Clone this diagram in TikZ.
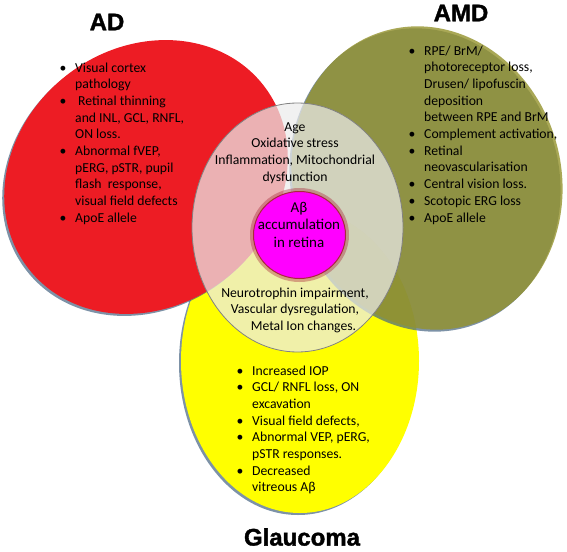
\documentclass[tikz,border=0pt]{standalone}
\usepackage{fontspec}
\setmainfont{Carlito}
\newfontfamily\titlefont[FakeBold=1.5]{Liberation Sans Bold}
\definecolor{adred}{RGB}{237,28,36}
\definecolor{amdolive}{RGB}{148,146,44}
\definecolor{glyellow}{RGB}{255,255,0}
\definecolor{shadowblue}{RGB}{70,100,130}
\definecolor{hubfill}{RGB}{235,235,235}
\definecolor{hubline}{RGB}{130,130,130}
\definecolor{abmag}{RGB}{255,0,255}
\definecolor{abglow}{RGB}{170,40,60}
\newcommand\bitem{\makebox[15.5pt][l]{•}}
\newcommand\cont{\hspace*{15.5pt}}
\begin{document}
\begin{tikzpicture}[x=1pt,y=-1pt,
  listtext/.style={inner sep=0pt, align=left, anchor=base west, font=\fontsize{13.7}{16.7}\selectfont},
  ctext/.style={inner sep=0pt, align=center, anchor=base, font=\fontsize{13.7}{16.7}\selectfont},
  magtext/.style={inner sep=0pt, align=center, anchor=base, font=\fontsize{15}{17.5}\selectfont},
  titletext/.style={inner sep=0pt, font=\titlefont\fontsize{24}{28}\selectfont},
  shadowfill/.style={fill=shadowblue, opacity=0.7, xshift=-2pt, yshift=-2pt}]

\useasboundingbox (0,0) rectangle (567,551);

% Glaucoma (yellow)
\fill[shadowfill] (300,361) ellipse [x radius=119pt, y radius=152pt];
\fill[glyellow] (300,361) ellipse [x radius=119pt, y radius=152pt];

% AD (red)
\fill[shadowfill, rotate around={38:(146,177)}] (146,177) ellipse [x radius=149pt, y radius=129pt];
\fill[adred, rotate around={38:(146,177)}] (146,177) ellipse [x radius=149pt, y radius=129pt];

% AMD (olive)
\fill[shadowfill, rotate around={16:(427,178)}] (427,178) ellipse [x radius=134pt, y radius=153pt];
\fill[amdolive, opacity=0.8, rotate around={16:(427,178)}] (427,178) ellipse [x radius=134pt, y radius=153pt];

% common hub
\filldraw[fill=hubfill, fill opacity=0.72, draw=hubline, line width=0.8pt] (297.5,227.5) ellipse [x radius=105.5pt, y radius=124.5pt];

% A-beta core
\fill[abglow, opacity=0.4] (299.5,235) ellipse [x radius=49.5pt, y radius=47pt];
\filldraw[fill=abmag, draw=abglow, line width=1pt] (299.5,235) ellipse [x radius=46pt, y radius=43.5pt];

% titles
\node[titletext] (adtitle) at (107,22) {AD};
\node[titletext] (amdtitle) at (461,13) {AMD};
\node[titletext] (gltitle) at (302,537) {Glaucoma};

% AD list (anchored at the baseline of its last line)
\node[listtext] (adlist) at (59.5,222.3) {%
\bitem Visual cortex\\
\cont pathology\\
\bitem\hspace*{3pt}Retinal thinning\\
\cont and INL, GCL, RNFL,\\
\cont ON loss.\\
\bitem Abnormal fVEP,\\
\cont pERG, pSTR, pupil\\
\cont flash\ \ response,\\
\cont visual field defects\\
\bitem ApoE allele};

% AMD list
\node[listtext] (amdlist) at (408.5,222) {%
\bitem RPE/ BrM/\\
\cont photoreceptor loss,\\
\cont Drusen/ lipofuscin\\
\cont deposition\\
\cont between RPE and BrM\\
\bitem Complement activation,\\
\bitem Retinal\\
\cont neovascularisation\\
\bitem Central vision loss.\\
\bitem Scotopic ERG loss\\
\bitem ApoE allele};

% Glaucoma list
\node[listtext] (gllist) at (236.5,491.9) {%
\bitem Increased IOP\\
\bitem GCL/ RNFL loss, ON\\
\cont excavation\\
\bitem Visual field defects,\\
\bitem Abnormal VEP, pERG,\\
\cont pSTR responses.\\
\bitem Decreased\\
\cont vitreous Aβ};

% shared factors
\node[ctext] (topshared) at (295,181.1) {Age\\ Oxidative stress\\ Inflammation, Mitochondrial\\ dysfunction};
\node[magtext] (core) at (299,247) {Aβ\\ accumulation\\ in retina};
\node[ctext] (botshared) at (295,330.4) {Neurotrophin impairment,\\ Vascular dysregulation,\\ \hspace*{17pt}Metal Ion changes.};

\end{tikzpicture}
\end{document}
